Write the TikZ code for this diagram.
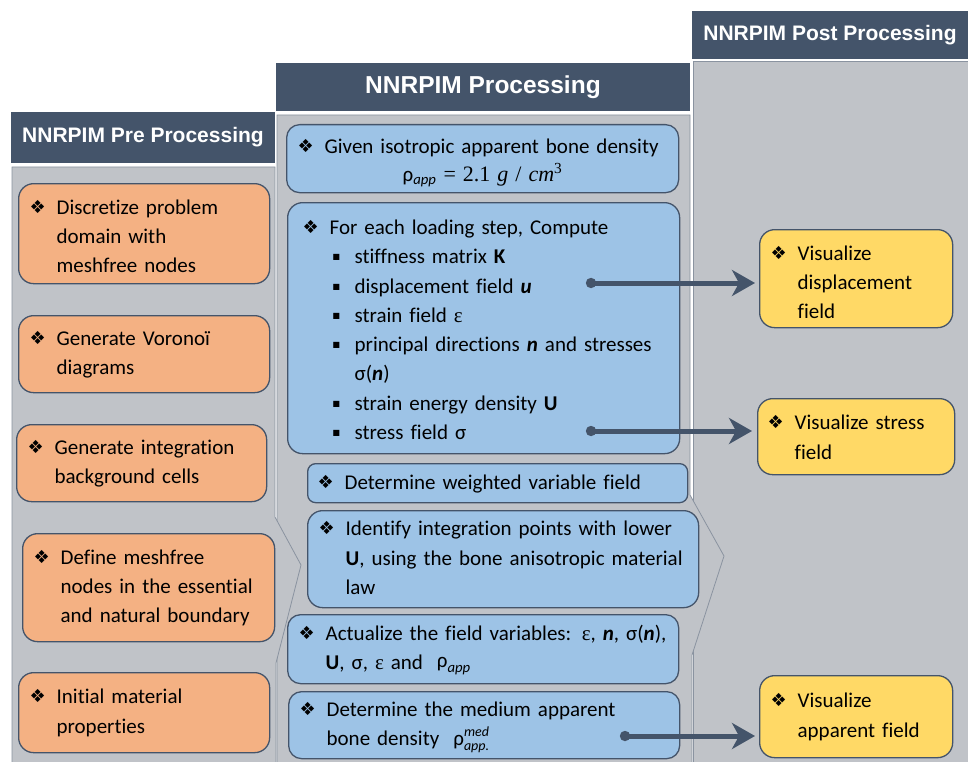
\documentclass[tikz,border=0pt]{standalone}
\usepackage{fontspec}
\setmainfont{Carlito}[Ligatures=NoCommon]
\newfontfamily\hdrfont{Liberation Sans}
\newfontfamily\djv{DejaVu Sans}
\newfontfamily\tms{Liberation Serif}
\usetikzlibrary{arrows.meta}
\definecolor{hdrc}{HTML}{44546A}
\definecolor{bodyc}{HTML}{C0C3C8}
\definecolor{bodyl}{HTML}{8A93A0}
\definecolor{orc}{HTML}{F4B183}
\definecolor{blc}{HTML}{9DC3E6}
\definecolor{ylc}{HTML}{FFD966}
\newcommand\dia{\makebox[26pt][l]{\hspace*{-1pt}\raisebox{1pt}{\djv\fontsize{18}{18}\selectfont ❖}}}
\newcommand\sqb{\makebox[25pt][l]{\hspace*{3pt}\raisebox{4pt}{\djv\fontsize{8}{8}\selectfont ■}}}
\newcommand\bi[1]{\textbf{\textit{#1}}}
\newcommand\eps{{\tms ε}}
\newcommand\sml{\fontsize{14}{14}\selectfont\itshape}
\newcommand\dn[2]{\raisebox{-#1}[\height][\depth]{#2}}
\begin{document}
\begin{tikzpicture}[x=1pt,y=-1pt,
  font=\fontsize{21}{29.3}\selectfont,
  hdr/.style={fill=hdrc, draw=white, line width=1pt, text=white,
    font=\hdrfont\bfseries\fontsize{21}{25}\selectfont, anchor=north west, inner sep=0pt},
  body/.style={fill=bodyc, draw=bodyl, line width=0.8pt},
  bx/.style={draw=hdrc, line width=1.3pt, rounded corners=15pt, anchor=north west,
    inner xsep=12pt, inner ysep=0pt, align=left},
  ob/.style={bx, fill=orc},
  bb/.style={bx, fill=blc},
  yb/.style={bx, fill=ylc},
  arr/.style={draw=hdrc, line width=5pt,
    {Circle[length=10pt]}-{Stealth[length=23pt,width=26pt,inset=7pt]}}]
\clip (0,0) rectangle (968,762);
\fill[white] (0,0) rectangle (968,762);
% column bodies
\path[body] (693,61) -- (975,61) -- (975,770) -- (693,770) -- cycle;
\path[body] (277,115) -- (690,115) -- (690,495) -- (724,556) -- (692,655) -- (692,770) -- (277,770) -- cycle;
\path[body] (12,167) -- (275,167) -- (275,517) -- (301,565) -- (276,663) -- (276,770) -- (12,770) -- cycle;
% headers
\node[hdr, minimum width=265pt, minimum height=52pt] (H1) at (10,111) {NNRPIM Pre Processing};
\node[hdr, font=\hdrfont\bfseries\fontsize{24.5}{28}\selectfont, minimum width=415pt, minimum height=49pt] (H2) at (275,62) {NNRPIM Processing};
\node[hdr, minimum width=277pt, minimum height=49pt] (H3) at (691,10) {NNRPIM Post Processing};
% left column
\node[ob, text width=227pt, minimum height=100pt] (L1) at (18,183)
  {\dn{4pt}{\begin{tabular}{@{}l@{}l@{}}\dia & Discretize problem\\ & domain with\\ & meshfree nodes\end{tabular}}};
\node[ob, text width=227pt, minimum height=77pt] (L2) at (18,315)
  {\begin{tabular}{@{}l@{}l@{}}\dia & Generate Voronoï\\ & diagrams\end{tabular}};
\node[ob, text width=226pt, minimum height=77pt] (L3) at (16,424)
  {\begin{tabular}{@{}l@{}l@{}}\dia & Generate integration\\ & background cells\end{tabular}};
\node[ob, text width=228pt, minimum height=108pt] (L4) at (22,533)
  {\begin{tabular}{@{}l@{}l@{}}\dia & Define meshfree\\ & nodes in the essential\\ & and natural boundary\end{tabular}};
\node[ob, text width=227pt, minimum height=80pt] (L5) at (18,672)
  {\begin{tabular}{@{}l@{}l@{}}\dia & Initial material\\ & properties\end{tabular}};
% middle column
\node[bb, rounded corners=13pt, text width=368pt, minimum height=68pt] (M1) at (286,124)
  {\dn{3pt}{\begin{tabular}{@{}l@{}l@{}}\dia & Given isotropic apparent bone density\\[-2pt]
   & \hspace*{78pt}ρ\textsubscript{\itshape app}{\tms\fontsize{22}{29}\selectfont\ = 2.1 \textit{g} / \textit{cm}\textsuperscript{3}}\end{tabular}}};
\node[bb, inner xsep=16pt, text width=360pt, minimum height=251pt] (M2) at (287,202)
  {\dn{3pt}{\begin{tabular}{@{}l@{}l@{}}\dia & For each loading step, Compute\\
   & \sqb stiffness matrix \textbf{K}\\
   & \sqb displacement field \bi{u}\\
   & \sqb strain field \eps\\
   & \sqb principal directions \bi{n} and stresses\\
   & \hspace*{25pt}σ(\bi{n})\\
   & \sqb strain energy density \textbf{U}\\
   & \sqb stress field σ\end{tabular}}};
\node[bb, rounded corners=8pt, inner xsep=11pt, text width=358pt, minimum height=39pt] (M3) at (307,463)
  {\begin{tabular}{@{}l@{}l@{}}\dia & Determine weighted variable field\end{tabular}};
\node[bb, text width=367pt, minimum height=97pt] (M4) at (307,510)
  {\begin{tabular}{@{}l@{}l@{}}\dia & Identify integration points with lower\\
   & \textbf{U}, using the bone anisotropic material\\ & law\end{tabular}};
\node[bb, rounded corners=13pt, text width=367pt, minimum height=69pt] (M5) at (287,614)
  {\begin{tabular}{@{}l@{}l@{}}\dia & Actualize the field variables: \eps, \bi{n}, σ(\bi{n}),\\
   & \textbf{U}, σ, \eps\ and \ \raisebox{2pt}{ρ}\textsubscript{\itshape app}\end{tabular}};
\node[bb, rounded corners=13pt, text width=367pt, minimum height=67pt] (M6) at (288,691)
  {\begin{tabular}{@{}l@{}l@{}}\dia & Determine the medium apparent\\
   & bone density \ ρ\rlap{\raisebox{9pt}{\sml med}}\raisebox{-5pt}{\sml app.}\end{tabular}};
% right column
\node[yb, text width=169pt, minimum height=98pt] (R1) at (759,229)
  {\dn{5pt}{\begin{tabular}{@{}l@{}l@{}}\dia & Visualize\\ & displacement\\ & field\end{tabular}}};
\node[yb, inner xsep=11pt, text width=175pt, minimum height=76pt] (R2) at (757,398)
  {\dn{2pt}{\begin{tabular}{@{}l@{}l@{}}\dia & Visualize stress\\ & field\end{tabular}}};
\node[yb, text width=169pt, minimum height=82pt] (R3) at (759,675)
  {\begin{tabular}{@{}l@{}l@{}}\dia & Visualize\\ & apparent field\end{tabular}};
% connectors
\coordinate (d1) at (586,283);
\coordinate (d2) at (586,431);
\coordinate (d3) at (620,736);
\draw[arr, shorten >=4pt] (d1) -- (d1 -| R1.west);
\draw[arr, shorten >=5pt] (d2) -- (d2 -| R2.west);
\draw[arr, shorten >=4pt] (d3) -- (d3 -| R3.west);
\end{tikzpicture}
\end{document}
